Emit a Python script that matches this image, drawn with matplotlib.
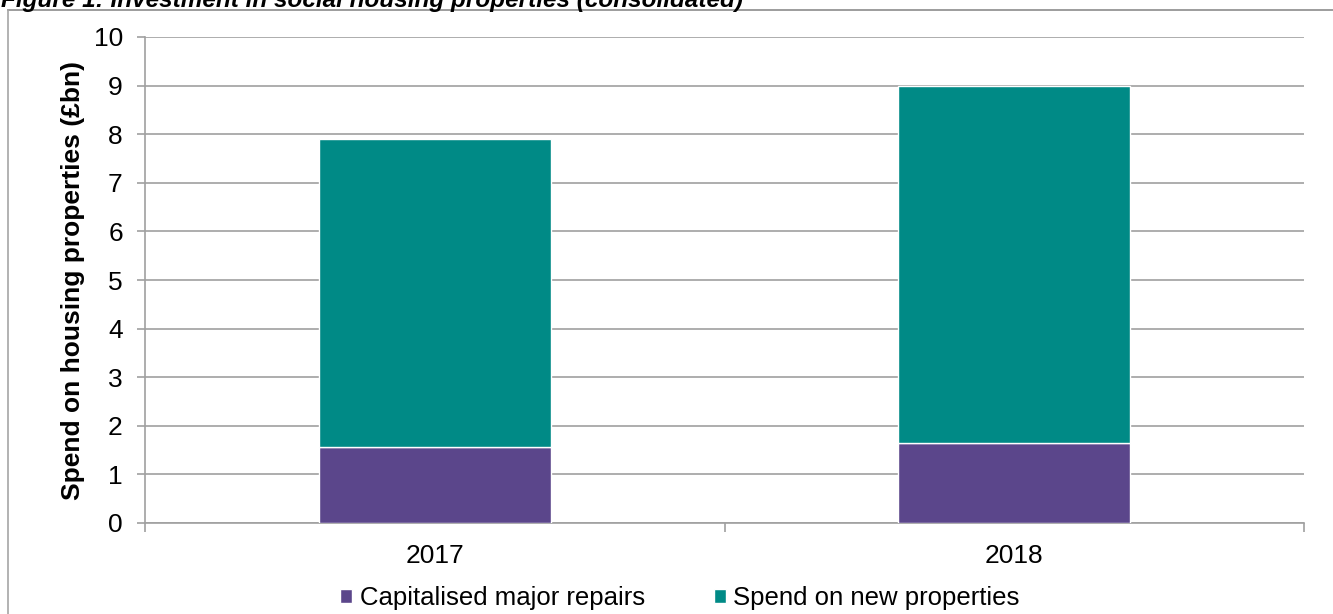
import matplotlib
matplotlib.use('Agg')
import matplotlib.pyplot as plt
import numpy as np
from matplotlib.lines import Line2D

plt.rcParams['font.family'] = ['Liberation Sans', 'DejaVu Sans']

years = ['2017', '2018']
major_repairs = [1.57, 1.65]
new_properties = [6.33, 7.35]
series_names = ['Capitalised major repairs', 'Spend on new properties']
colours = ['#5B468B', '#008A86']

W, H = 1333, 614
fig = plt.figure(figsize=(W / 100, H / 100), dpi=100)

# chart frame (gray border around the chart area)
fig.add_artist(Line2D([8 / W, 1], [1 - 10 / H, 1 - 10 / H], color='#8c8c8c', lw=1.2,
                      transform=fig.transFigure))
fig.add_artist(Line2D([8 / W, 8 / W], [0, 1 - 10 / H], color='#a6a6a6', lw=1.2,
                      transform=fig.transFigure))

fig.text(1 / W, 1 - 7 / H, 'Figure 1: Investment in social housing properties (consolidated)',
         fontsize=17.5, fontweight='bold', fontstyle='italic', va='baseline', ha='left')

ax = fig.add_axes([145 / W, (H - 523) / H, 1159 / W, 486 / H])
x = np.arange(len(years))
ax.bar(x, major_repairs, width=0.4, color=colours[0], edgecolor='white', linewidth=1,
       label=series_names[0], zorder=3)
ax.bar(x, new_properties, width=0.4, bottom=major_repairs, color=colours[1],
       edgecolor='white', linewidth=1, label=series_names[1], zorder=3)

ax.set_xlim(-0.5, 1.5)
ax.set_ylim(0, 10)
ax.set_yticks(range(0, 11))
ax.yaxis.grid(True, color='#a0a0a0', linewidth=1.2)
ax.set_axisbelow(True)

ax.set_xticks([-0.5, 0.5, 1.5])
ax.set_xticklabels([])
ax.set_xticks(x, minor=True)
ax.set_xticklabels(years, minor=True)
ax.tick_params(axis='x', which='major', length=6.5, color='#a0a0a0', width=1.2)
ax.tick_params(axis='x', which='minor', length=0, labelsize=19, pad=15)
ax.tick_params(axis='y', length=6, color='#a0a0a0', width=1.2, labelsize=19, pad=10)

for side in ['top', 'right']:
    ax.spines[side].set_visible(False)
ax.spines['left'].set_color('#a0a0a0')
ax.spines['bottom'].set_color('#a0a0a0')
ax.spines['left'].set_linewidth(1.2)
ax.spines['bottom'].set_linewidth(1.2)

ax.set_ylabel('Spend on housing properties (£bn)', fontsize=19, fontweight='bold', labelpad=6)

ax.legend(loc='center', bbox_to_anchor=((680 - 145) / 1159, -(598 - 523) / 486), ncol=2,
          frameon=False, fontsize=18.5, handlelength=0.45, handleheight=0.45,
          handletextpad=0.3, columnspacing=2.7)

fig.savefig('out.png', dpi=100)
